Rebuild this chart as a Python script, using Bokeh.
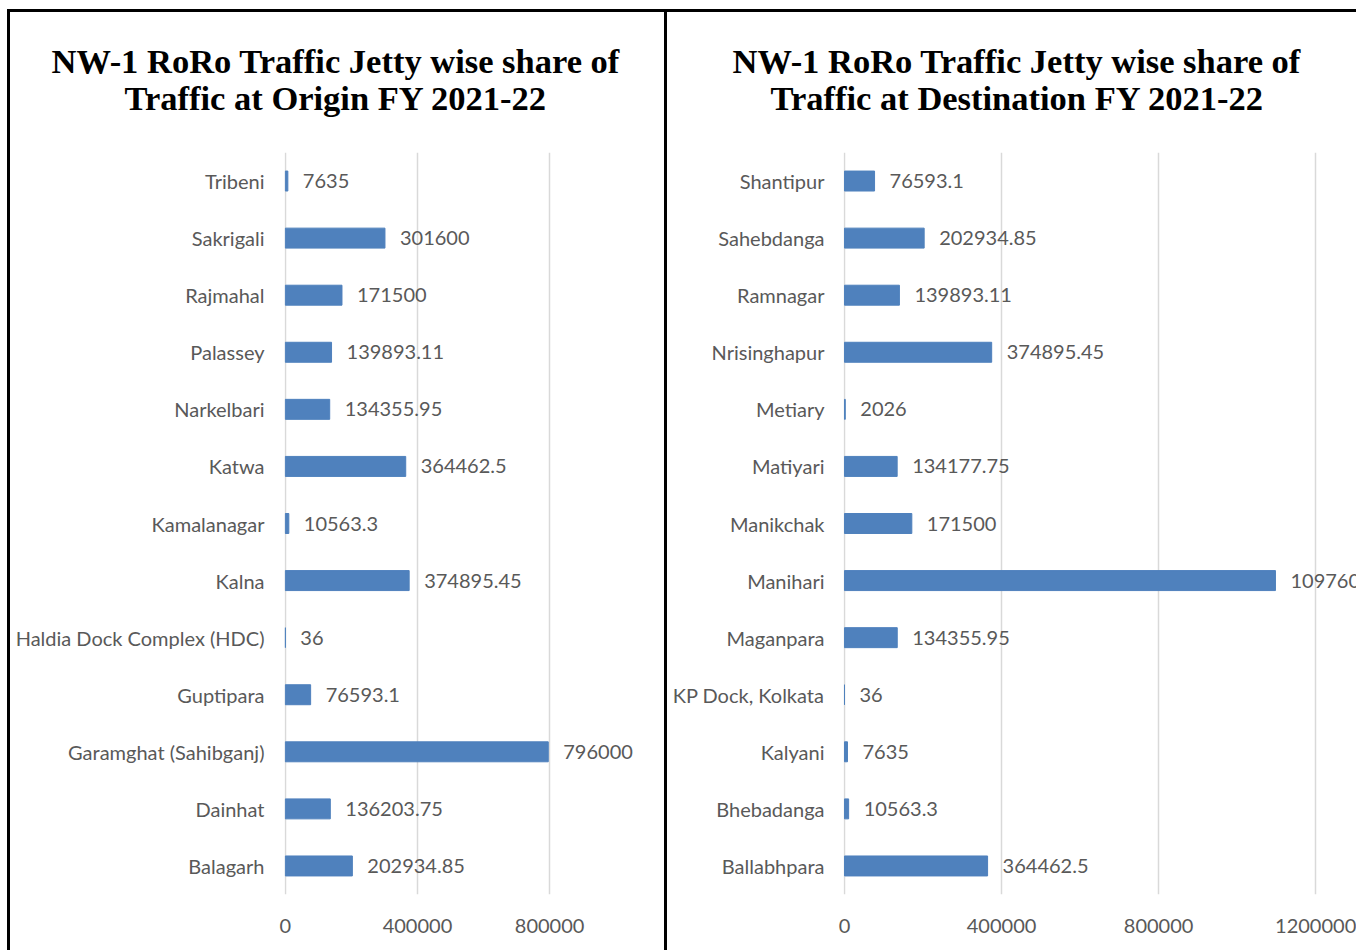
from bokeh.plotting import figure
from bokeh.layouts import row
from bokeh.models import ColumnDataSource, FactorRange, Range1d, FixedTicker, BasicTickFormatter, Title
from bokeh.core.properties import value
from bokeh.embed import file_html
from bokeh.resources import INLINE

# ---- data ----
origin_jetties = ["Tribeni", "Sakrigali", "Rajmahal", "Palassey", "Narkelbari", "Katwa",
                  "Kamalanagar", "Kalna", "Haldia Dock Complex (HDC)", "Guptipara",
                  "Garamghat (Sahibganj)", "Dainhat", "Balagarh"]
origin_traffic = [7635, 301600, 171500, 139893.11, 134355.95, 364462.5,
                  10563.3, 374895.45, 36, 76593.1, 796000, 136203.75, 202934.85]

dest_jetties = ["Shantipur", "Sahebdanga", "Ramnagar", "Nrisinghapur", "Metiary", "Matiyari",
                "Manikchak", "Manihari", "Maganpara", "KP Dock, Kolkata", "Kalyani",
                "Bhebadanga", "Ballabhpara"]
dest_traffic = [76593.1, 202934.85, 139893.11, 374895.45, 2026, 134177.75,
                171500, 1097600, 134355.95, 36, 7635, 10563.3, 364462.5]

origin_ticks = [0, 400000, 800000]
dest_ticks = [0, 400000, 800000, 1200000]

title_origin = ["NW-1 RoRo Traffic Jetty wise share of", "Traffic at Origin FY 2021-22"]
title_dest = ["NW-1 RoRo Traffic Jetty wise share of", "Traffic at Destination FY 2021-22"]

BAR = "#4F81BD"
GREY = "#595959"
GRID = "#D9D9D9"
FONT = "Lato"


def make_panel(cats, vals, ticks, title_lines, width, height, x_end, mb_left, mb_top, mb_bottom,
               title_offsets, y_standoff, styles):
    src = ColumnDataSource(dict(cat=cats, val=vals, lab=[str(v) for v in vals]))
    p = figure(width=width, height=height, output_backend="svg", toolbar_location=None,
               y_range=FactorRange(*list(reversed(cats)), range_padding=0),
               x_range=Range1d(-2500, x_end),
               min_border_left=mb_left, min_border_right=0,
               min_border_top=mb_top, min_border_bottom=mb_bottom)
    p.hbar(y="cat", right="val", left=0, height=0.35, source=src,
           fill_color=BAR, line_color=BAR)
    p.text(x="val", y="cat", text="lab", source=src, x_offset=15,
           text_font=value(FONT), text_font_size="20px", text_color=GREY,
           text_baseline="middle", text_align="left")
    # second line first (closest to the frame); a trailing empty line keeps it clear of the plot
    p.add_layout(Title(text=title_lines[1] + "\n", align="left", offset=title_offsets[1],
                       standoff=-4, text_line_height=1.0,
                       text_font="Liberation Serif", text_font_style="bold",
                       text_font_size="34.5px", text_color="black"), "above")
    p.add_layout(Title(text=title_lines[0], align="left", offset=title_offsets[0],
                       standoff=-2,
                       text_font="Liberation Serif", text_font_style="bold",
                       text_font_size="34.5px", text_color="black"), "above")

    p.outline_line_color = None
    p.ygrid.grid_line_color = None
    p.xgrid.grid_line_color = GRID
    p.xgrid.grid_line_width = 1.5
    p.xaxis.ticker = FixedTicker(ticks=ticks)
    p.xaxis.formatter = BasicTickFormatter(use_scientific=False)
    for ax in (p.xaxis[0], p.yaxis[0]):
        ax.axis_line_color = None
        ax.major_tick_line_color = None
        ax.minor_tick_line_color = None
        ax.major_label_text_font = FONT
        ax.major_label_text_font_size = "20px"
        ax.major_label_text_color = GREY
    p.yaxis.major_label_standoff = y_standoff
    p.xaxis.major_label_standoff = 18
    p.styles = styles
    return p


left = make_panel(origin_jetties, origin_traffic, origin_ticks, title_origin,
                  width=660, height=941, x_end=1166000, mb_left=274, mb_top=139,
                  mb_bottom=56, title_offsets=[-233, -160], y_standoff=14,
                  styles={"border-top": "3px solid black", "border-left": "3px solid black",
                          "border-right": "3px solid black"})
right = make_panel(dest_jetties, dest_traffic, dest_ticks, title_dest,
                   width=689, height=941, x_end=1304000, mb_left=176, mb_top=140,
                   mb_bottom=59, title_offsets=[-111, -73], y_standoff=13,
                   styles={"border-top": "3px solid black"})

layout = row(left, right, styles={"margin-left": "7px", "margin-top": "9px"})
open("out.html", "w").write(file_html(layout, INLINE))
